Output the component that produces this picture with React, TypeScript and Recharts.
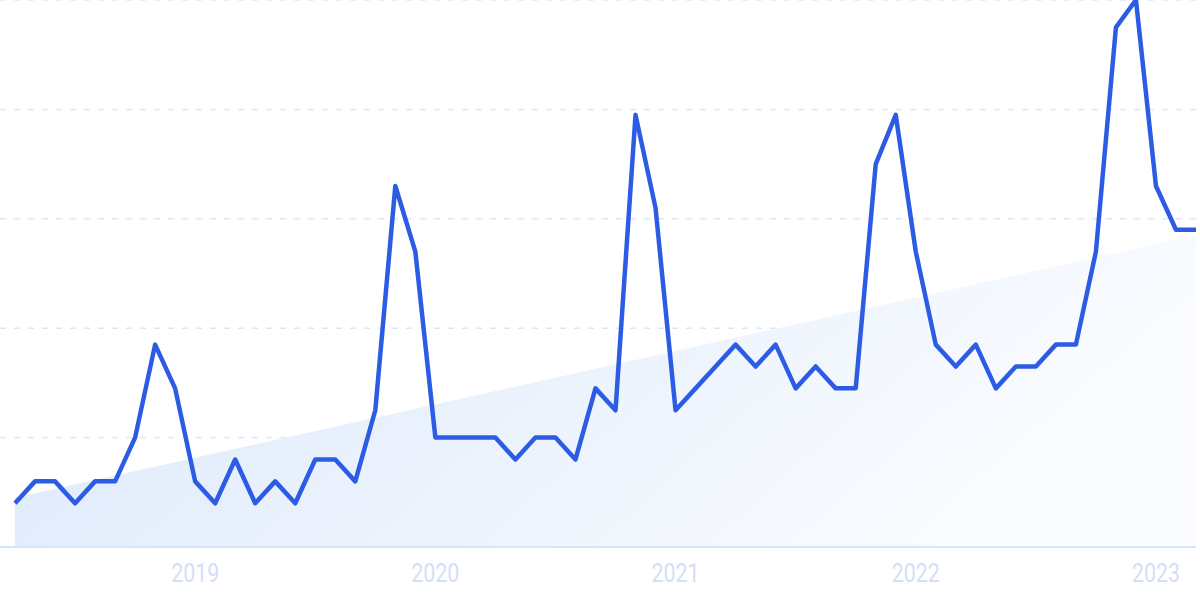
import { ComposedChart, Line, Area, XAxis, YAxis, CartesianGrid } from 'recharts'

const months = [
  '2018-04', '2018-05', '2018-06', '2018-07', '2018-08', '2018-09', '2018-10', '2018-11', '2018-12',
  '2019-01', '2019-02', '2019-03', '2019-04', '2019-05', '2019-06', '2019-07', '2019-08', '2019-09', '2019-10', '2019-11', '2019-12',
  '2020-01', '2020-02', '2020-03', '2020-04', '2020-05', '2020-06', '2020-07', '2020-08', '2020-09', '2020-10', '2020-11', '2020-12',
  '2021-01', '2021-02', '2021-03', '2021-04', '2021-05', '2021-06', '2021-07', '2021-08', '2021-09', '2021-10', '2021-11', '2021-12',
  '2022-01', '2022-02', '2022-03', '2022-04', '2022-05', '2022-06', '2022-07', '2022-08', '2022-09', '2022-10', '2022-11', '2022-12',
  '2023-01', '2023-02', '2023-03',
]

const interest = [
  8, 12, 12, 8, 12, 12, 20, 37, 29,
  12, 8, 16, 8, 12, 8, 16, 16, 12, 25, 66, 54,
  20, 20, 20, 20, 16, 20, 20, 16, 29, 25, 79, 62,
  25, 29, 33, 37, 33, 37, 29, 33, 29, 29, 70, 79,
  54, 37, 33, 37, 29, 33, 33, 37, 37, 54, 95, 100,
  66, 58, 58,
]

// trend line: value at first and last month only, drawn straight between them
const trendEnds = [9, 57]

const yearTicks = ['2019-01', '2020-01', '2021-01', '2022-01', '2023-01']
const yearLabels = ['2019', '2020', '2021', '2022', '2023']
const gridTicks = [0, 20, 40, 60, 80, 100]

const data = months.map((m, i) => ({
  month: m,
  value: interest[i],
  trend: i === 0 ? trendEnds[0] : i === months.length - 1 ? trendEnds[1] : null,
}))

function YearTick(props: any) {
  const { x, y, payload } = props
  const idx = yearTicks.indexOf(payload.value)
  return (
    <text
      x={x}
      y={y}
      dy={35}
      textAnchor="middle"
      fontSize={25}
      fontFamily="Roboto, sans-serif"
      fill="#d5def6"
      textLength={48}
      lengthAdjust="spacingAndGlyphs"
    >
      {yearLabels[idx]}
    </text>
  )
}

export default function App() {
  return (
    <div style={{ position: 'absolute', left: 0, top: 0, width: 1200, height: 599, background: '#fff' }}>
      <ComposedChart width={1200} height={599} data={data} margin={{ top: 0, right: 4, bottom: 12, left: 0 }}>
        <defs>
          <linearGradient id="trendFill" x1="0" y1="0" x2="1" y2="0.3">
            <stop offset="0%" stopColor="#dae7fa" />
            <stop offset="100%" stopColor="#fafcff" />
          </linearGradient>
        </defs>
        <CartesianGrid vertical={false} stroke="#dde6fb" strokeWidth={1.5} strokeDasharray="6 8" />
        <YAxis hide domain={[0, 100]} ticks={gridTicks} />
        <XAxis
          dataKey="month"
          ticks={yearTicks}
          interval={0}
          height={40}
          padding={{ left: 15, right: 0 }}
          tickLine={false}
          tickSize={0}
          tickMargin={0}
          axisLine={{ stroke: '#d6e5fa', strokeWidth: 2 }}
          tick={<YearTick />}
        />
        <Area
          dataKey="trend"
          connectNulls
          stroke="none"
          fill="url(#trendFill)"
          fillOpacity={1}
          dot={false}
          activeDot={false}
          isAnimationActive={false}
        />
        <Line
          dataKey="value"
          stroke="#2d5ce4"
          strokeWidth={4.5}
          dot={false}
          activeDot={false}
          strokeLinejoin="round"
          isAnimationActive={false}
        />
      </ComposedChart>
    </div>
  )
}
